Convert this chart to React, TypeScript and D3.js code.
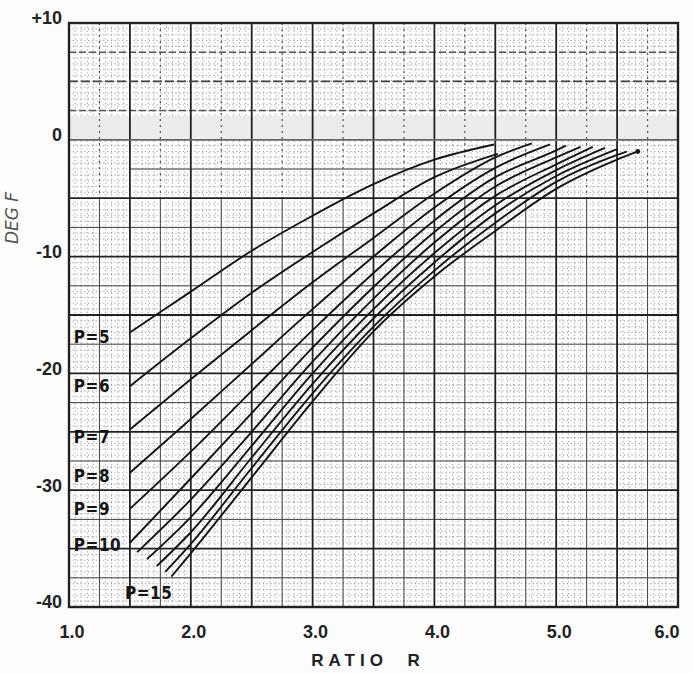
import { useRef, useEffect } from 'react';
import * as d3 from 'd3';

// curves: [ratio R, deg F]
const p5 = [[1.5, -16.5], [2.0, -13.0], [2.5, -9.5], [3.0, -6.5], [3.5, -3.8], [4.0, -1.7], [4.49, -0.4]];
const p6 = [[1.5, -21.1], [2.0, -17.0], [2.5, -13.1], [3.0, -9.6], [3.5, -6.3], [4.0, -3.2], [4.52, -1.2]];
const p7 = [[1.5, -24.8], [2.0, -20.5], [2.5, -16.3], [3.0, -12.2], [3.5, -8.4], [4.0, -4.6], [4.5, -1.5], [4.8, -0.3]];
const p8 = [[1.5, -28.5], [2.0, -23.9], [2.5, -19.2], [3.0, -14.5], [3.5, -10.0], [4.0, -5.8], [4.5, -2.4], [4.95, -0.4]];
const p9 = [[1.5, -31.6], [2.0, -26.7], [2.5, -21.5], [3.0, -16.3], [3.5, -11.4], [4.0, -6.9], [4.5, -3.2], [5.0, -0.9], [5.08, -0.5]];
const p10 = [[1.5, -34.5], [2.0, -29.0], [2.5, -23.4], [3.0, -17.8], [3.5, -12.6], [4.0, -7.9], [4.5, -4.0], [5.0, -1.5], [5.2, -0.6]];
const p11 = [[1.56, -35.3], [2.0, -30.8], [2.5, -25.0], [3.0, -19.0], [3.5, -13.6], [4.0, -8.8], [4.5, -4.8], [5.0, -2.1], [5.3, -0.6]];
const p12 = [[1.64, -35.9], [2.0, -32.3], [2.5, -26.2], [3.0, -20.0], [3.5, -14.5], [4.0, -9.7], [4.5, -5.6], [5.0, -2.6], [5.4, -0.7]];
const p13 = [[1.72, -36.5], [2.0, -33.6], [2.5, -27.2], [3.0, -20.9], [3.5, -15.3], [4.0, -10.5], [4.5, -6.3], [5.0, -3.1], [5.5, -0.8]];
const p14 = [[1.79, -37.0], [2.0, -34.6], [2.5, -28.1], [3.0, -21.7], [3.5, -16.0], [4.0, -11.2], [4.5, -7.1], [5.0, -3.6], [5.5, -1.3], [5.58, -1.0]];
const p15 = [[1.84, -37.4], [2.0, -35.4], [2.5, -28.9], [3.0, -22.4], [3.5, -16.4], [4.0, -11.7], [4.5, -7.8], [5.0, -4.2], [5.5, -1.7], [5.67, -1.0]];

const curves = [p5, p6, p7, p8, p9, p10, p11, p12, p13, p14, p15];

// labels at the left edge: text and the deg F level they sit at
const pLabels = ['P=5', 'P=6', 'P=7', 'P=8', 'P=9', 'P=10'];
const pLabelLevels = [-16.9, -21.1, -25.4, -28.8, -31.6, -34.7];

const xTicks = [1.0, 2.0, 3.0, 4.0, 5.0, 6.0];
const yTicks = [10, 0, -10, -20, -30, -40];

export default function App() {
  const svgRef = useRef(null);

  useEffect(() => {
    const svg = d3.select(svgRef.current);
    svg.selectAll('*').remove();

    const W = 693, H = 673;
    const L = 69, R = 678, T = 23, B = 607;
    const x = d3.scaleLinear().domain([1, 6]).range([L, R]);
    const y = d3.scaleLinear().domain([-40, 10]).range([B, T]);

    svg.attr('width', W).attr('height', H);
    svg.append('rect').attr('width', W).attr('height', H).attr('fill', '#fdfdfd');
    svg.append('rect').attr('x', L).attr('y', T).attr('width', R - L).attr('height', B - T).attr('fill', '#ffffff');

    const grid = svg.append('g');

    // fine dotted graph paper
    const fineX = d3.range(1, 6.001, 0.05);
    const fineY = d3.range(-40, 10.001, 0.5);
    grid.selectAll('.fx').data(fineX).enter().append('line')
      .attr('x1', d => x(d)).attr('x2', d => x(d)).attr('y1', T).attr('y2', B)
      .attr('stroke', '#6a6a6a').attr('stroke-width', 1.1).attr('stroke-dasharray', '1.2 2.6').attr('opacity', 0.6);
    grid.selectAll('.fy').data(fineY).enter().append('line')
      .attr('y1', d => y(d)).attr('y2', d => y(d)).attr('x1', L).attr('x2', R)
      .attr('stroke', '#6a6a6a').attr('stroke-width', 1.1).attr('stroke-dasharray', '1.2 2.6').attr('opacity', 0.6);

    // light band between 0 and +2
    grid.append('rect').attr('x', L).attr('y', y(2)).attr('width', R - L).attr('height', y(0) - y(2))
      .attr('fill', '#ececec');

    // quarter lines
    const subX = d3.range(1.25, 6, 0.5);
    const subY = d3.range(-37.5, 10, 5);
    grid.selectAll('.sx').data(subX).enter().append('line')
      .attr('x1', d => x(d)).attr('x2', d => x(d)).attr('y1', y(-5)).attr('y2', B)
      .attr('stroke', '#444').attr('stroke-width', 1);
    grid.selectAll('.sxu').data(subX).enter().append('line')
      .attr('x1', d => x(d)).attr('x2', d => x(d)).attr('y1', T).attr('y2', y(-5))
      .attr('stroke', '#555').attr('stroke-width', 1.2).attr('stroke-dasharray', '2 4');
    grid.selectAll('.sy').data(subY.filter(v => v < -5)).enter().append('line')
      .attr('y1', d => y(d)).attr('y2', d => y(d)).attr('x1', L).attr('x2', R)
      .attr('stroke', '#444').attr('stroke-width', 1);
    grid.selectAll('.syu').data(subY.filter(v => v > 0)).enter().append('line')
      .attr('y1', d => y(d)).attr('y2', d => y(d)).attr('x1', L).attr('x2', R)
      .attr('stroke', '#555').attr('stroke-width', 1.5).attr('stroke-dasharray', '7 3');
    grid.append('line').attr('x1', x(1.5)).attr('x2', x(4.5)).attr('y1', y(-2.5)).attr('y2', y(-2.5))
      .attr('stroke', '#777').attr('stroke-width', 1.6);

    // major lines
    const majX = d3.range(1.5, 6, 0.5);
    const majY = d3.range(-35, 10, 5);
    grid.selectAll('.mx').data(majX).enter().append('line')
      .attr('x1', d => x(d)).attr('x2', d => x(d)).attr('y1', T).attr('y2', B)
      .attr('stroke', '#222').attr('stroke-width', 1.8);
    grid.selectAll('.my').data(majY.filter(v => v !== 5)).enter().append('line')
      .attr('y1', d => y(d)).attr('y2', d => y(d)).attr('x1', L).attr('x2', R)
      .attr('stroke', d => d === 0 ? '#666' : '#222').attr('stroke-width', 1.8);
    grid.append('line').attr('y1', y(5)).attr('y2', y(5)).attr('x1', L).attr('x2', R)
      .attr('stroke', '#444').attr('stroke-width', 1.7).attr('stroke-dasharray', '9 3');

    svg.append('rect').attr('x', L).attr('y', T).attr('width', R - L).attr('height', B - T)
      .attr('fill', 'none').attr('stroke', '#222').attr('stroke-width', 2.4);

    // curves
    const line = d3.line().x(d => x(d[0])).y(d => y(d[1])).curve(d3.curveMonotoneX);
    svg.append('g').selectAll('path').data(curves).enter().append('path')
      .attr('d', line).attr('fill', 'none').attr('stroke', '#151515').attr('stroke-width', 1.9);
    const last = p15[p15.length - 1];
    svg.append('circle').attr('cx', x(last[0])).attr('cy', y(last[1])).attr('r', 2.4).attr('fill', '#151515');

    // P labels
    const lab = svg.append('g').style('font-family', '"DejaVu Sans Condensed", "DejaVu Sans", sans-serif')
      .style('font-weight', 'bold').style('font-size', '17px').style('letter-spacing', '0.5px').attr('fill', '#151515');
    pLabels.forEach((t, i) => {
      lab.append('text').attr('x', x(1.04)).attr('y', y(pLabelLevels[i])).attr('dy', '0.36em').text(t);
    });
    lab.append('text').attr('x', x(1.46)).attr('y', y(-38.8)).attr('dy', '0.36em').text('P=15');

    // tick labels
    const tl = svg.append('g').style('font-family', '"Liberation Sans", Arial, sans-serif')
      .style('font-weight', 'bold').style('font-size', '18px').attr('fill', '#222');
    yTicks.forEach(v => {
      tl.append('text').attr('x', 62).attr('y', y(v) - 5).attr('dy', '0.36em').attr('text-anchor', 'end')
        .text(v > 0 ? `+${v}` : `${v}`);
    });
    xTicks.forEach(v => {
      tl.append('text').attr('x', Math.min(x(v) + 3, 667)).attr('y', 632).attr('dy', '0.36em')
        .attr('text-anchor', 'middle').text(v.toFixed(1));
    });

    svg.append('text').attr('x', 368).attr('y', 660).attr('dy', '0.36em').attr('text-anchor', 'middle')
      .style('font-family', '"Liberation Sans", Arial, sans-serif').style('font-weight', 'bold')
      .style('font-size', '17px').style('letter-spacing', '5px').attr('fill', '#222')
      .attr('xml:space', 'preserve').text('RATIO  R');

    svg.append('text').attr('transform', 'translate(18,218) rotate(-90)').attr('text-anchor', 'middle')
      .style('font-family', '"DejaVu Sans", sans-serif').style('font-style', 'italic')
      .style('font-size', '17px').attr('fill', '#555').text('DEG F');
  }, []);

  return (
    <div style={{ position: 'absolute', left: 0, top: 0 }}>
      <svg ref={svgRef} style={{ display: 'block' }} role="img" aria-label="Temperature versus ratio R for P = 5 to 15" />
    </div>
  );
}
